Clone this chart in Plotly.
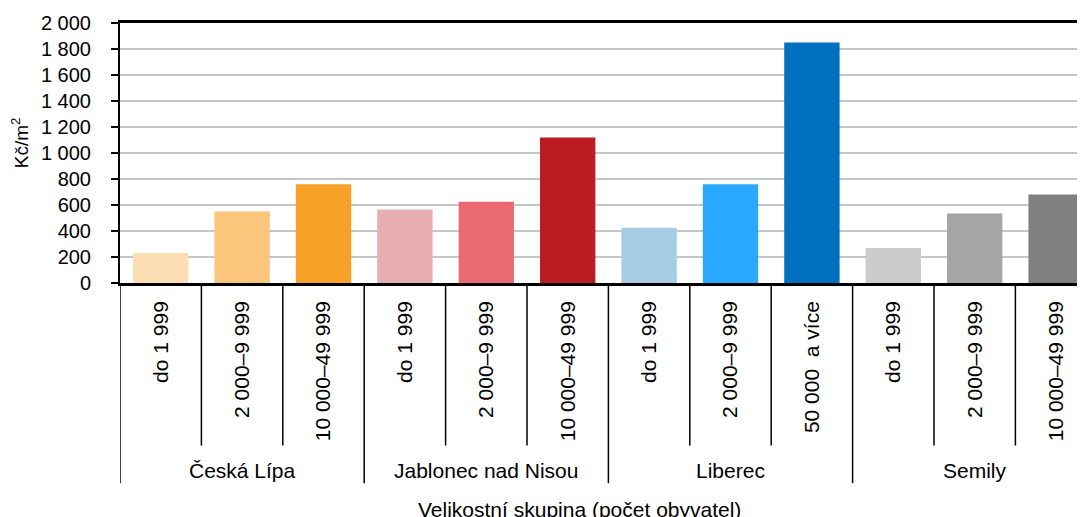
import plotly.graph_objects as go

# data
districts = ["Česká Lípa", "Jablonec nad Nisou", "Liberec", "Semily"]
size_groups = [
    ["do 1 999", "2 000–9 999", "10 000–49 999"],
    ["do 1 999", "2 000–9 999", "10 000–49 999"],
    ["do 1 999", "2 000–9 999", "50 000  a více"],
    ["do 1 999", "2 000–9 999", "10 000–49 999"],
]
prices = [
    [230, 550, 760],
    [565, 625, 1120],
    [425, 760, 1850],
    [270, 535, 680],
]
bar_colors = [
    ["#FCDEB2", "#F9C67C", "#F9A22A"],
    ["#E6AEB2", "#E96A71", "#BC1B23"],
    ["#A7CCE6", "#29A8FF", "#0070BF"],
    ["#CCCCCC", "#A6A6A6", "#808080"],
]
y_ticks = [0, 200, 400, 600, 800, 1000, 1200, 1400, 1600, 1800, 2000]
y_ticktext = ["0", "200", "400", "600", "800", "1 000", "1 200", "1 400", "1 600", "1 800", "2 000"]

FONT = "Liberation Sans, Arial, sans-serif"

labels, values, colors = [], [], []
for g, v, c in zip(size_groups, prices, bar_colors):
    labels += g
    values += v
    colors += c
xs = list(range(len(values)))

fig = go.Figure(go.Bar(
    x=xs, y=values, marker_color=colors, marker_line_width=0,
    width=0.68, showlegend=False, hoverinfo="y",
))

# dividers below the axis (short ones between sizes, long ones between districts)
shapes = []
pos = 0
for g in size_groups:
    shapes.append(dict(type="line", xref="x", yref="paper", x0=pos - 0.5, x1=pos - 0.5,
                       y0=0, y1=-0.77, line=dict(color="black", width=1.5)))
    for k in range(1, len(g)):
        shapes.append(dict(type="line", xref="x", yref="paper", x0=pos + k - 0.5, x1=pos + k - 0.5,
                           y0=0, y1=-0.625, line=dict(color="black", width=1.5)))
    pos += len(g)
shapes.append(dict(type="line", xref="x", yref="paper", x0=pos - 0.5, x1=pos - 0.5,
                   y0=0, y1=-0.77, line=dict(color="black", width=1.5)))

annotations = []
pos = 0
for d, g in zip(districts, size_groups):
    annotations.append(dict(x=pos + (len(g) - 1) / 2, y=-0.72, xref="x", yref="paper",
                            text=d, showarrow=False, font=dict(size=21, color="black"),
                            xanchor="center", yanchor="middle"))
    pos += len(g)
annotations.append(dict(x=0.476, y=-0.87, xref="paper", yref="paper",
                        text="Velikostní skupina (počet obyvatel)", showarrow=False,
                        font=dict(size=21, color="black"), xanchor="center", yanchor="middle"))
annotations.append(dict(x=-0.104, y=0.54, xref="paper", yref="paper",
                        text="Kč/m<sup>2</sup>", showarrow=False, textangle=-90,
                        font=dict(size=19, color="black"), xanchor="center", yanchor="middle"))

# page body has an 8px margin, so the figure is sized to fit the window
fig.update_layout(
    width=1077, height=509,
    margin=dict(l=112, r=0, t=15, b=234),
    paper_bgcolor="white", plot_bgcolor="white",
    font=dict(family=FONT, color="black"),
    bargap=0.32,
    shapes=shapes,
    annotations=annotations,
    xaxis=dict(
        tickvals=xs, ticktext=labels, tickangle=-90,
        range=[-0.5, 11.355], showgrid=False, zeroline=False,
        showline=True, linecolor="black", linewidth=2.5, mirror=True,
        ticks="", tickfont=dict(size=21, color="black"),
        ticklabelstandoff=7,
    ),
    yaxis=dict(
        range=[0, 2000], tickvals=y_ticks, ticktext=y_ticktext,
        showgrid=True, gridcolor="#C6C6C6", gridwidth=1.5, zeroline=False,
        showline=True, linecolor="black", linewidth=2,
        ticks="outside", ticklen=7, tickwidth=1.5, tickcolor="black",
        tickfont=dict(size=20, color="black"), ticklabelstandoff=16,
    ),
)

fig.write_html("out.html")
